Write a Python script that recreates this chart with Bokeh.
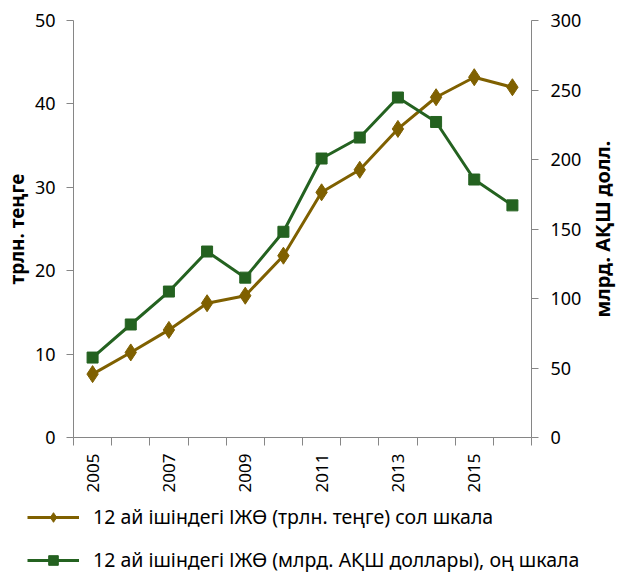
import math
from bokeh.plotting import figure
from bokeh.layouts import column, row
from bokeh.models import (Range1d, LinearAxis, FixedTicker, SingleIntervalTicker,
                          Legend, LegendItem, BasicTickFormatter, Label)
from bokeh.embed import file_html
from bokeh.resources import INLINE

years = [2005, 2006, 2007, 2008, 2009, 2010, 2011, 2012, 2013, 2014, 2015, 2016]
gdp_kzt = [7.6, 10.2, 12.9, 16.1, 17.0, 21.8, 29.4, 32.1, 37.0, 40.8, 43.2, 42.0]
gdp_usd = [57.5, 81.3, 105.0, 133.8, 115.0, 148.0, 200.7, 215.8, 244.6, 227.0, 185.6, 167.0]

label_kzt = "12 ай ішіндегі ІЖӨ (трлн. теңге) сол шкала"
label_usd = "12 ай ішіндегі ІЖӨ (млрд. АҚШ доллары), оң шкала"
left_title = "трлн. теңге"
right_title = "млрд. АҚШ долл."

C_KZT = "#7F6000"
C_USD = "#246220"
AX = "#868686"
FONT = "Noto Sans"

p = figure(width=585, height=495, output_backend="svg", toolbar_location=None,
           x_range=Range1d(years[0] - 0.5, years[-1] + 0.5),
           y_range=Range1d(0, 50),
           min_border_left=71, min_border_right=54, min_border_top=20,
           min_border_bottom=58)
p.outline_line_color = None
p.xgrid.visible = False
p.ygrid.visible = False
p.extra_y_ranges = {"usd": Range1d(0, 300)}

# x axis
xa = p.xaxis[0]
xa.ticker = FixedTicker(ticks=years[::2],
                        minor_ticks=[y - 0.5 for y in years] + [years[-1] + 0.5])
xa.formatter = BasicTickFormatter(use_scientific=False)
xa.major_tick_out = 0
xa.major_tick_in = 0
xa.minor_tick_out = 8
xa.minor_tick_in = 0
xa.minor_tick_line_color = AX
xa.axis_line_color = AX
xa.major_label_orientation = math.pi / 2
xa.major_label_standoff = 8
xa.major_label_text_font = FONT
xa.major_label_text_font_size = "17px"
xa.major_label_text_color = "#000000"

# left axis
ya = p.yaxis[0]
ya.ticker = SingleIntervalTicker(interval=10)
ya.minor_tick_line_color = None
ya.major_tick_out = 7
ya.major_tick_in = 0
ya.major_tick_line_color = AX
ya.axis_line_color = AX
ya.major_label_standoff = 11
ya.major_label_text_font = FONT
ya.major_label_text_font_size = "18px"
ya.major_label_text_color = "#000000"
ya.axis_label = left_title
ya.axis_label_text_font = FONT
ya.axis_label_text_font_style = "bold"
ya.axis_label_text_font_size = "19px"
ya.axis_label_text_color = "#000000"
ya.axis_label_standoff = 2

# right axis (its title is drawn in the narrow strip to the right)
ra = LinearAxis(y_range_name="usd", ticker=SingleIntervalTicker(interval=50))
ra.minor_tick_line_color = None
ra.major_tick_out = 7
ra.major_tick_in = 0
ra.major_tick_line_color = AX
ra.axis_line_color = AX
ra.major_label_standoff = 12
ra.major_label_text_font = FONT
ra.major_label_text_font_size = "18px"
ra.major_label_text_color = "#000000"
p.add_layout(ra, "right")

# series
p.line(years, gdp_kzt, line_color=C_KZT, line_width=3)
p.scatter(years, gdp_kzt, marker="diamond", size=17, fill_color=C_KZT,
          line_color=C_KZT)
p.line(years, gdp_usd, line_color=C_USD, line_width=3, y_range_name="usd")
p.scatter(years, gdp_usd, marker="square", size=11, fill_color=C_USD,
          line_color=C_USD, y_range_name="usd")

# right-hand axis title, reading bottom to top
rf = figure(width=34, height=495, output_backend="svg", toolbar_location=None,
            x_range=Range1d(0, 1), y_range=Range1d(0, 1),
            x_axis_location=None, y_axis_location=None,
            min_border_left=0, min_border_right=0, min_border_top=20,
            min_border_bottom=58)
rf.outline_line_color = None
rf.xgrid.visible = False
rf.ygrid.visible = False
rf.add_layout(Label(x=0.5, y=0.5, text=right_title, angle=90, angle_units="deg",
                    text_align="center", text_baseline="middle",
                    text_font=FONT, text_font_style="bold",
                    text_font_size="20px", text_color="#000000"))

# legend strip below the chart (its renderers are hidden; only their swatches show)
lg = figure(width=619, height=78, output_backend="svg", toolbar_location=None,
            x_range=Range1d(0, 1), y_range=Range1d(0, 1),
            x_axis_location=None, y_axis_location=None,
            min_border_left=0, min_border_right=0, min_border_top=0,
            min_border_bottom=0)
lg.outline_line_color = None
lg.xgrid.visible = False
lg.ygrid.visible = False
k1 = lg.line(years, gdp_kzt, line_color=C_KZT, line_width=3, visible=False)
k2 = lg.scatter(years, gdp_kzt, marker="diamond", size=17, fill_color=C_KZT,
                line_color=C_KZT, visible=False)
u1 = lg.line(years, gdp_usd, line_color=C_USD, line_width=3, visible=False)
u2 = lg.scatter(years, gdp_usd, marker="square", size=11, fill_color=C_USD,
                line_color=C_USD, visible=False)

legend = Legend(items=[LegendItem(label=label_kzt, renderers=[k1, k2]),
                       LegendItem(label=label_usd, renderers=[u1, u2])],
                location=(27, 0), orientation="vertical",
                glyph_width=52, glyph_height=24, label_height=24,
                label_standoff=14, spacing=16, padding=0, margin=0,
                border_line_color=None, background_fill_alpha=0,
                inactive_fill_alpha=0,
                label_text_font=FONT, label_text_font_size="19.5px",
                label_text_color="#000000")
lg.add_layout(legend, "center")

layout = column(row(p, rf, spacing=0), lg, spacing=0)
open("out.html", "w").write(file_html(layout, INLINE))
